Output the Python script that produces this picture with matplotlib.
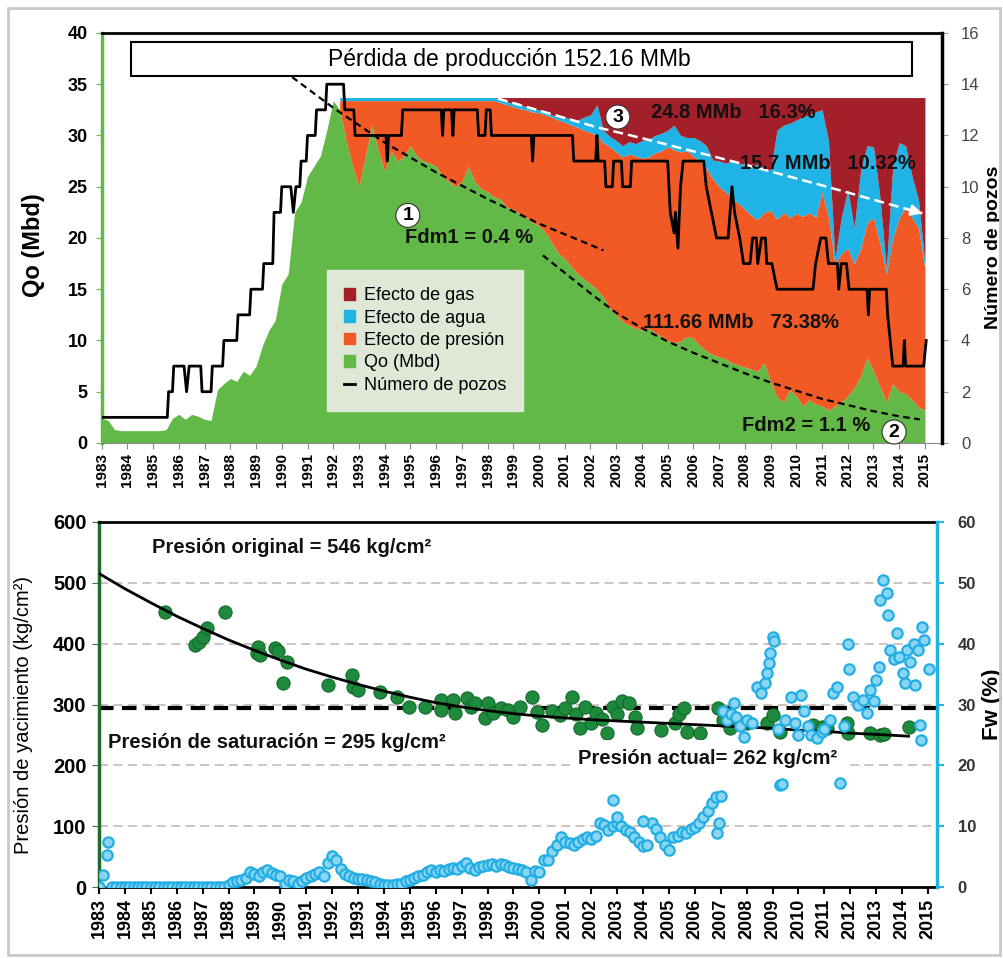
#!/usr/bin/env python3
"""Pérdida de producción (top) and presión de yacimiento / Fw (bottom)."""

import matplotlib
matplotlib.use("Agg")
import matplotlib.pyplot as plt
from matplotlib.patches import Rectangle, Patch
from matplotlib.lines import Line2D
import numpy as np

plt.rcParams["font.family"] = ["Liberation Sans", "DejaVu Sans"]

# Colors
GREEN = "#62b947"
ORANGE = "#f15a24"
BLUE = "#1fb3e6"
GAS = "#a3202a"
DKGREEN = "#1d8a3c"
FW_EDGE = "#22aee4"
FW_FACE = "#8ad6f2"
GRIDC = "#cdbfba"
LEG_BG = "#dfe7d6"

# ── Top chart data ──
# quarterly samples 1983.00 .. 2015.00
YEARS_Q = np.arange(1983.0, 2015.001, 0.25)
QO = [
    2.4, 2.2, 1.3, 1.2,      # 1983
    1.2, 1.2, 1.2, 1.2,      # 1984
    1.2, 1.2, 1.3, 2.4,      # 1985
    2.8, 2.3, 2.8, 2.6,      # 1986
    2.3, 2.2, 5.2, 5.8,      # 1987
    6.3, 6.0, 7.0, 6.6,      # 1988
    7.5, 9.5, 11.0, 12.0,    # 1989
    15.5, 16.5, 22.5, 23.5,  # 1990
    26.0, 27.0, 28.0, 30.5,  # 1991
    33.4, 32.5, 29.5, 27.0,  # 1992
    25.0, 28.0, 31.0, 28.5,  # 1993
    26.5, 28.5, 27.5, 28.0,  # 1994
    29.0, 28.0, 27.5, 27.3,  # 1995
    27.0, 26.0, 25.5, 25.0,  # 1996
    25.5, 27.0, 25.5, 24.8,  # 1997
    24.5, 24.0, 23.8, 23.0,  # 1998
    22.8, 22.4, 22.0, 21.5,  # 1999
    21.2, 20.5, 19.5, 18.5,  # 2000
    18.0, 17.2, 16.5, 16.0,  # 2001
    15.5, 15.0, 14.2, 13.2,  # 2002
    12.5, 11.8, 11.5, 11.2,  # 2003
    11.0, 11.2, 10.8, 10.4,  # 2004
    10.0, 9.8, 9.9, 10.4,    # 2005
    10.2, 9.5, 9.0, 8.6,     # 2006
    8.4, 8.2, 7.8, 7.6,      # 2007
    7.4, 7.2, 7.0, 7.8,      # 2008
    6.0, 4.5, 4.0, 5.2,      # 2009
    4.6, 3.6, 4.2, 3.8,      # 2010
    3.6, 3.2, 3.6, 4.0,      # 2011
    4.6, 5.4, 6.5, 8.3,      # 2012
    7.0, 5.5, 4.0, 5.8,      # 2013
    5.0, 4.8, 4.2, 3.5,      # 2014
    3.2,                     # 2015
]

# loss layers start 1992.25 (same quarterly dates)
LOSS_START = 1992.25
QO_POTENTIAL = 33.7
PRES_TOP = [
    33.4, 33.4, 33.4,
    33.4, 33.4, 33.4, 33.4,
    33.4, 33.4, 33.4, 33.4,
    33.4, 33.4, 33.4, 33.4,
    33.4, 33.4, 33.4, 33.4,
    33.4, 33.4, 33.4, 33.4,
    33.4, 33.4, 33.2, 33.0,
    32.8, 32.6, 32.5, 32.3,
    32.2, 32.0, 31.8, 31.5,
    31.3, 31.0, 30.8, 30.5,
    30.3, 30.0, 29.3, 28.9,
    28.4, 27.9, 28.2, 28.0,
    27.8, 27.9, 28.3, 28.5,
    28.9, 28.6, 28.4, 28.5,
    28.0, 27.5, 26.8, 25.8,
    25.0, 24.5, 23.8, 23.4,
    22.8, 22.2, 21.8, 22.5,
    22.7, 21.8, 22.5, 22.0,
    22.4, 22.1, 22.5, 22.0,
    24.5, 22.0, 17.5, 18.5,
    19.0, 17.5, 19.0, 21.5,
    22.0, 19.5, 16.5, 20.0,
    22.0, 23.0, 22.0, 21.0,
    17.0,
]
AGUA_TOP = [
    33.7, 33.7, 33.7,
    33.7, 33.7, 33.7, 33.7,
    33.7, 33.7, 33.7, 33.7,
    33.7, 33.7, 33.7, 33.7,
    33.7, 33.7, 33.7, 33.7,
    33.7, 33.7, 33.7, 33.7,
    33.7, 33.7, 33.5, 33.3,
    33.1, 33.0, 32.8, 32.6,
    32.5, 32.3, 32.0, 31.8,
    31.8, 31.6, 31.5, 31.8,
    32.0, 33.0, 30.5, 29.9,
    29.5, 29.0, 29.4, 29.2,
    29.5, 29.6, 30.0, 30.2,
    30.5, 31.0, 30.0, 29.8,
    29.8, 29.5, 29.0, 27.6,
    27.5, 27.3, 27.5, 27.2,
    27.3, 27.0, 27.2, 26.8,
    26.6, 30.5, 31.0, 31.2,
    31.5, 31.8, 32.0, 32.3,
    32.5, 29.5, 18.0, 22.0,
    24.7, 21.0, 26.6, 29.0,
    28.9, 24.0, 17.0, 27.0,
    29.3, 29.0, 26.0, 23.7,
    17.5,
]

WELL_YEARS = [
    1983.0, 1985.55, 1985.6, 1985.75, 1985.8, 1986.2, 1986.3, 1986.4, 1986.85, 1986.9,
    1987.25, 1987.3, 1987.7, 1987.75, 1988.25, 1988.3, 1988.75, 1988.8, 1989.25, 1989.3,
    1989.65, 1989.7, 1989.95, 1990.0, 1990.35, 1990.45, 1990.55, 1990.7, 1990.75, 1990.95,
    1991.0, 1991.3, 1991.35, 1991.7, 1991.75, 1992.4, 1992.45, 1992.8, 1992.85, 1994.05,
    1994.1, 1994.15, 1994.65, 1994.7, 1996.2, 1996.25, 1996.3, 1996.6, 1996.65, 1996.7,
    1997.6, 1997.65, 1997.9, 1997.95, 1998.1, 1998.15, 1999.7, 1999.75, 1999.8, 2001.3,
    2001.35, 2002.2, 2002.25, 2002.3, 2002.55, 2002.6, 2002.85, 2002.9, 2003.2, 2003.25,
    2003.55, 2003.6, 2005.0, 2005.1, 2005.25, 2005.3, 2005.4, 2005.5, 2005.6, 2006.4,
    2006.5, 2006.7, 2006.9, 2007.35, 2007.5, 2007.6, 2007.8, 2007.95, 2008.2, 2008.3,
    2008.45, 2008.5, 2008.65, 2008.8, 2008.85, 2009.05, 2009.25, 2010.65, 2010.75, 2010.95,
    2011.15, 2011.25, 2011.6, 2011.65, 2011.75, 2011.95, 2012.05, 2012.75, 2012.8, 2012.85,
    2013.5, 2013.55, 2013.65, 2013.75, 2014.15, 2014.2, 2014.25, 2014.95, 2015.05,
]
WELL_COUNT = [
    1, 1, 2, 2, 3, 3, 2, 3, 3, 2,
    2, 3, 3, 4, 4, 5, 5, 6, 6, 7,
    7, 9, 9, 10, 10, 9, 10, 10, 11, 11,
    12, 12, 13, 13, 14, 14, 13, 13, 12, 12,
    11, 12, 12, 13, 13, 12, 13, 13, 12, 13,
    13, 12, 12, 13, 13, 12, 12, 11, 12, 12,
    11, 11, 12, 11, 11, 10, 10, 11, 11, 10,
    10, 11, 11, 9, 8.2, 9, 7.6, 10, 11, 11,
    10, 9, 8, 8, 10, 9, 8, 7, 7, 8,
    8, 7, 8, 8, 7, 7, 6, 6, 7, 8,
    8, 7, 7, 6, 7, 7, 6, 6, 5, 6,
    6, 5, 4, 3, 3, 4, 3, 3, 4,
]

FDM1_YEARS = [1990.4, 1992.0, 1994.0, 1996.0, 1998.0, 2000.0, 2002.5]
FDM1_QO = [35.7, 32.7, 29.3, 26.4, 23.8, 21.4, 18.8]
FDM2_YEARS = [2000.15, 2001, 2002, 2003, 2004, 2005, 2006, 2007, 2008,
              2009, 2010, 2011, 2012, 2013, 2014, 2014.8]
FDM2_QO = [18.3, 16.6, 14.6, 12.7, 11.2, 9.9, 8.8, 7.8, 6.8,
           5.9, 5.1, 4.3, 3.7, 3.1, 2.6, 2.3]
GAS_TREND_YEARS = [1998.4, 2002.25, 2003.9, 2007.8, 2010.9, 2014.9]
GAS_TREND_QO = [33.6, 30.8, 29.8, 27.3, 25.2, 22.4]

# ── Bottom chart data ──
P_ORIGINAL = 546
P_SAT = 295
P_ACTUAL = 262
P_YEARS = [
    1985.55, 1986.7, 1986.85, 1987.0, 1987.16, 1987.86, 1989.1, 1989.15, 1989.2, 1989.8,
    1989.9, 1990.25, 1990.1, 1991.85, 1992.75, 1992.8, 1993.0, 1993.85, 1994.5, 1994.95,
    1995.6, 1996.2, 1996.2, 1996.67, 1996.75, 1997.2, 1997.35, 1997.5, 1997.9, 1998.0,
    1998.2, 1998.5, 1998.8, 1999.0, 1999.25, 1999.7, 1999.9, 2000.1, 2000.5, 2000.8,
    2001.0, 2001.25, 2001.4, 2001.57, 2001.76, 2002.0, 2002.2, 2002.4, 2002.6, 2002.86,
    2003.0, 2003.18, 2003.44, 2003.7, 2003.76, 2004.7, 2005.24, 2005.4, 2005.6, 2005.7,
    2006.2, 2006.9, 2007.1, 2007.36, 2008.0, 2008.78, 2009.03, 2009.3, 2010.58, 2010.9,
    2011.1, 2011.87, 2011.93, 2012.77, 2013.15, 2013.3, 2014.25,
]
P_VALUES = [
    452, 398, 403, 410, 425, 452, 385, 395, 381, 392,
    388, 370, 335, 332, 348, 329, 324, 321, 313, 296,
    296, 307, 291, 307, 286, 310, 296, 302, 278, 302,
    286, 295, 291, 280, 296, 313, 288, 266, 290, 283,
    295, 313, 285, 261, 296, 270, 286, 276, 253, 296,
    285, 305, 302, 280, 261, 258, 269, 285, 294, 255,
    253, 294, 275, 261, 270, 269, 283, 255, 266, 263,
    262, 269, 253, 253, 250, 252, 263,
]
FIT_YEARS = [1983, 1984, 1985, 1986, 1987, 1988, 1989, 1990, 1991, 1992, 1993,
             1994, 1995, 1996, 1997, 1998, 1999, 2000, 2001, 2002, 2003, 2004,
             2005, 2006, 2007, 2008, 2009, 2010, 2011, 2012, 2013, 2014.25]
FIT_VALUES = [515, 490, 467, 445, 425, 406, 389, 373, 358, 345, 333,
              322, 312, 303, 296, 290, 285, 281, 278, 275, 273, 271,
              269, 267, 265, 263, 261, 258, 256, 253, 251, 248]

# Fw, bi-monthly 1983.0 .. 2006.83
FW_BIMONTHLY = [
    0, 2.0, 7.5, 0, 0, 0,                 # 1983
    0, 0, 0, 0, 0, 0,                     # 1984
    0, 0, 0, 0, 0, 0,                     # 1985
    0, 0, 0, 0, 0, 0,                     # 1986
    0, 0, 0, 0, 0, 0,                     # 1987
    0.3, 0.8, 1.0, 1.2, 1.5, 2.5,         # 1988
    2.2, 1.8, 2.5, 2.8, 2.4, 2.0,         # 1989
    1.8, 0.5, 1.2, 1.0, 0.5, 1.0,         # 1990
    1.5, 1.8, 2.2, 2.5, 1.8, 4.0,         # 1991
    5.2, 4.5, 3.0, 2.2, 1.8, 1.5,         # 1992
    1.4, 1.3, 1.2, 1.0, 0.8, 0.5,         # 1993
    0.3, 0.3, 0.3, 0.5, 0.6, 1.0,         # 1994
    1.2, 1.5, 1.8, 2.0, 2.5, 2.8,         # 1995
    2.5, 2.8, 2.6, 3.0, 3.2, 3.0,         # 1996
    3.5, 4.0, 3.2, 2.8, 3.3, 3.5,         # 1997
    3.6, 3.8, 3.5, 3.9, 3.6, 3.4,         # 1998
    3.2, 3.0, 2.8, 2.5, 1.2, 2.6,         # 1999
    2.5, 4.5, 4.5, 6.0, 7.0, 8.3,         # 2000
    7.5, 7.2, 7.0, 7.5, 8.0, 8.3,         # 2001
    8.0, 8.5, 10.5, 10.2, 9.4, 10.0,      # 2002
    10.5, 10.0, 9.4, 9.0, 8.3, 7.5,       # 2003
    6.7, 7.0, 10.5, 9.5, 8.3, 7.0,        # 2004
    6.1, 8.3, 8.5, 9.0, 8.9, 9.5,         # 2005
    9.9, 10.5, 11.6, 12.5, 13.8, 14.9,    # 2006
]
FW_YEARS_BIMONTHLY = 1983.0 + np.arange(len(FW_BIMONTHLY)) / 6.0
FW_EXTRA_YEARS = [
    1983.3, 2002.86, 2003.0, 2004.0, 2006.85, 2006.95, 2007.0,
    2007.1, 2007.25, 2007.4, 2007.5, 2007.6, 2007.75, 2007.9, 2008.0, 2008.2, 2008.4,
    2008.55, 2008.7, 2008.8, 2008.85, 2008.9, 2009.0, 2009.05, 2009.2, 2009.3, 2009.35,
    2009.5, 2009.7, 2009.85, 2010.0, 2010.1, 2010.2, 2010.35, 2010.5, 2010.7, 2010.9,
    2011.0, 2011.2, 2011.35, 2011.5, 2011.6, 2011.75, 2011.9, 2011.95, 2012.1, 2012.3,
    2012.5, 2012.63, 2012.76, 2012.9, 2013.0, 2013.1, 2013.15, 2013.28, 2013.4, 2013.45,
    2013.55, 2013.7, 2013.8, 2013.9, 2014.05, 2014.1, 2014.2, 2014.3, 2014.45, 2014.5,
    2014.6, 2014.7, 2014.75, 2014.77, 2014.85, 2015.05,
]
FW_EXTRA = [
    5.3, 14.3, 11.5, 10.8, 8.9, 10.5, 15.0,
    29.0, 27.5, 28.5, 30.2, 28.0, 26.4, 24.7, 27.5, 27.0, 32.9,
    31.9, 33.5, 35.2, 36.8, 38.4, 41.1, 40.5, 26.0, 16.8, 17.0,
    27.5, 31.3, 27.0, 25.0, 31.5, 29.0, 26.5, 25.0, 24.5, 25.5,
    26.0, 27.5, 31.9, 32.9, 17.1, 26.5, 40.0, 35.9, 31.3, 30.0,
    30.7, 28.6, 32.4, 30.5, 34.0, 36.2, 47.2, 50.4, 48.3, 44.7,
    38.9, 37.5, 41.7, 37.8, 35.1, 33.5, 38.9, 37.0, 40.0, 33.2,
    39.0, 26.6, 24.2, 42.8, 40.6, 35.9,
]

YEAR_TICKS = list(range(1983, 2016))


def bold_ticks(ax, size):
    for lab in ax.get_xticklabels() + ax.get_yticklabels():
        lab.set_fontweight("bold")
        lab.set_fontsize(size)


fig = plt.figure(figsize=(10.04, 9.58), dpi=100)
fig.patch.set_facecolor("white")
fig.add_artist(Rectangle((0.008, 0.003), 0.988, 0.989, transform=fig.transFigure,
                         fill=False, ec="#c9c9c9", lw=2))

# ── Top: production loss ──
ax1 = fig.add_axes([0.1013, 0.5376, 0.8366, 0.428])
years_q = np.asarray(YEARS_Q)
qo = np.asarray(QO)
i0 = int(np.argmin(np.abs(years_q - LOSS_START)))
loss_years = years_q[i0:]

ax1.fill_between(years_q, 0, qo, color=GREEN, lw=0, zorder=1)
ax1.fill_between(loss_years, qo[i0:], PRES_TOP, color=ORANGE, lw=0, zorder=1)
ax1.fill_between(loss_years, PRES_TOP, AGUA_TOP, color=BLUE, lw=0, zorder=1)
ax1.fill_between(loss_years, AGUA_TOP, QO_POTENTIAL, color=GAS, lw=0, zorder=1)

ax1.plot(FDM1_YEARS, FDM1_QO, color="black", lw=1.6, ls=(0, (3, 2)), zorder=3)
ax1.plot(FDM2_YEARS, FDM2_QO, color="black", lw=1.6, ls=(0, (3, 2)), zorder=3)
ax1.plot(GAS_TREND_YEARS, GAS_TREND_QO, color="white", lw=1.8, ls=(0, (4, 2)), zorder=3)
xa = GAS_TREND_YEARS[-2] + 0.9 * (GAS_TREND_YEARS[-1] - GAS_TREND_YEARS[-2])
ya = GAS_TREND_QO[-2] + 0.9 * (GAS_TREND_QO[-1] - GAS_TREND_QO[-2])
ax1.annotate("", xy=(GAS_TREND_YEARS[-1], GAS_TREND_QO[-1]), xytext=(xa, ya),
             arrowprops=dict(arrowstyle="-|>,head_length=0.7,head_width=0.35",
                             color="white", lw=1.5, shrinkA=0, shrinkB=0), zorder=3)

ax1.set_xlim(1983, 2015.65)
ax1.set_ylim(0, 40)
ax1.set_yticks(range(0, 41, 5))
ax1.set_xticks(YEAR_TICKS)
ax1.set_xticklabels([str(y) for y in YEAR_TICKS], rotation=90)
bold_ticks(ax1, 13)
for lab in ax1.get_xticklabels():
    lab.set_fontsize(11)
ax1.tick_params(axis="x", length=4, color="#8a8a8a", pad=3)
ax1.tick_params(axis="y", length=4, color=GREEN, pad=6)
ax1.spines["left"].set_color(GREEN)
ax1.spines["left"].set_linewidth(2.5)
ax1.spines["bottom"].set_color("#8a8a8a")
ax1.spines["top"].set_linewidth(2)
ax1.spines["right"].set_visible(False)
ax1.set_ylabel("Qo (Mbd)", fontsize=17, fontweight="bold")
ax1.yaxis.set_label_coords(-0.0675, 0.483)

# title box
ax1.add_patch(Rectangle((0.035, 0.895), 0.93, 0.083, transform=ax1.transAxes,
                        fc="white", ec="black", lw=1.5, zorder=5))
ax1.text(0.485, 0.935, "Pérdida de producción 152.16 MMb", transform=ax1.transAxes,
         ha="center", va="center", fontsize=16.5, zorder=6)

bold = dict(fontsize=14.5, fontweight="bold", color="#111111", zorder=6)
ax1.text(2004.36, 32.2, "24.8 MMb   16.3%", ha="left", va="center", **bold)
ax1.text(2007.8, 27.3, "15.7 MMb   10.32%", ha="left", va="center", **bold)
ax1.text(2004.03, 11.8, "111.66 MMb   73.38%", ha="left", va="center", **bold)
ax1.text(1994.8, 20.0, "Fdm1 = 0.4 %", ha="left", va="center", **bold)
ax1.text(2007.87, 1.75, "Fdm2 = 1.1 %", ha="left", va="center", **bold)
circ = dict(boxstyle="circle,pad=0.18", fc="white", ec="#333333", lw=0.8)
for label, (cx, cy) in {"1": (1994.9, 22.2), "3": (2003.06, 31.8),
                        "2": (2013.8, 1.07)}.items():
    ax1.text(cx, cy, label, ha="center", va="center", fontsize=14,
             fontweight="bold", bbox=circ, zorder=7)

# wells on the right axis
ax1r = ax1.twinx()
ax1r.plot(WELL_YEARS, WELL_COUNT, color="black", lw=2, zorder=4)
ax1r.set_ylim(0, 16)
ax1r.set_yticks(range(0, 17, 2))
ax1r.tick_params(axis="y", labelsize=12, labelcolor="#444444", color="#999999",
                 length=4, pad=10)
ax1r.spines["right"].set_linewidth(2.5)
ax1r.spines["left"].set_visible(False)
ax1r.spines["top"].set_visible(False)
ax1r.spines["bottom"].set_visible(False)
ax1r.set_ylabel("Número de pozos", fontsize=14, fontweight="bold")
ax1r.yaxis.set_label_coords(1.0515, 0.478)

handles = [
    Patch(color=GAS, label="Efecto de gas"),
    Patch(color=BLUE, label="Efecto de agua"),
    Patch(color=ORANGE, label="Efecto de presión"),
    Patch(color=GREEN, label="Qo (Mbd)"),
    Line2D([0], [0], color="black", lw=2, label="Número de pozos"),
]
leg = ax1r.legend(handles=handles, loc="lower left", bbox_to_anchor=(0.257, 0.056),
                  fontsize=13, frameon=True, fancybox=False, facecolor=LEG_BG,
                  edgecolor=LEG_BG, framealpha=1, handlelength=0.6, handleheight=0.6,
                  handletextpad=0.5, labelspacing=0.3, borderpad=0.95)
leg.set_zorder(10)

# ── Bottom: reservoir pressure and water cut ──
ax2 = fig.add_axes([0.0986, 0.0738, 0.8347, 0.3816])
ax2.set_xlim(1983, 2015.35)
ax2.set_ylim(0, 600)
for v in range(100, 600, 100):
    ax2.axhline(v, color=GRIDC, lw=1.3, ls=(0, (5, 3)), zorder=0)
ax2.axhline(P_SAT, color="black", lw=3, ls=(0, (3.5, 2)), zorder=2)
ax2.scatter(P_YEARS, P_VALUES, s=90, c=DKGREEN, edgecolors="#146a2c", linewidths=0.8,
            zorder=3)
ax2.plot(FIT_YEARS, FIT_VALUES, color="black", lw=2, zorder=4)

ptext = dict(fontsize=14.5, fontweight="bold", color="#111111")
ax2.text(1985.05, 557, f"Presión original = {P_ORIGINAL} kg/cm²", ha="left",
         va="center", **ptext)
ax2.text(1983.35, 238, f"Presión de saturación = {P_SAT} kg/cm²", ha="left",
         va="center", **ptext)
ax2.text(2001.5, 212, f"Presión actual= {P_ACTUAL} kg/cm²", ha="left", va="center",
         zorder=5, bbox=dict(fc="white", ec="none", pad=6), **ptext)

ax2.set_xticks(YEAR_TICKS)
ax2.set_xticklabels([str(y) for y in YEAR_TICKS], rotation=90)
ax2.set_yticks(range(0, 601, 100))
bold_ticks(ax2, 13)
ax2.tick_params(axis="x", length=5, width=1.5, color="black", pad=3)
ax2.tick_params(axis="y", length=5, color=DKGREEN, pad=4)
for lab in ax2.get_yticklabels():
    lab.set_fontsize(14.5)
ax2.spines["left"].set_color("#1f6b2f")
ax2.spines["left"].set_linewidth(2.5)
ax2.spines["bottom"].set_linewidth(2)
ax2.spines["top"].set_linewidth(2)
ax2.spines["right"].set_visible(False)
ax2.set_ylabel("Presión de yacimiento (kg/cm²)", fontsize=14.5)
ax2.yaxis.set_label_coords(-0.079, 0.471)

ax2r = ax2.twinx()
ax2r.scatter(FW_YEARS_BIMONTHLY, FW_BIMONTHLY, s=55, c=FW_FACE, edgecolors=FW_EDGE,
             linewidths=1.6, zorder=3)
ax2r.scatter(FW_EXTRA_YEARS, FW_EXTRA, s=55, c=FW_FACE, edgecolors=FW_EDGE,
             linewidths=1.6, zorder=3)
ax2r.set_ylim(0, 60)
ax2r.set_yticks(range(0, 61, 10))
ax2r.tick_params(axis="y", labelsize=12, labelcolor="#333333", color=BLUE, length=5,
                 width=1.5, pad=10)
for lab in ax2r.get_yticklabels():
    lab.set_fontweight("bold")
ax2r.spines["right"].set_color(BLUE)
ax2r.spines["right"].set_linewidth(2.5)
ax2r.spines["left"].set_visible(False)
ax2r.spines["top"].set_visible(False)
ax2r.spines["bottom"].set_visible(False)
ax2r.set_ylabel("Fw (%)", fontsize=16, fontweight="bold")
ax2r.yaxis.set_label_coords(1.054, 0.501)

fig.savefig("out.png", dpi=100, facecolor="white")
